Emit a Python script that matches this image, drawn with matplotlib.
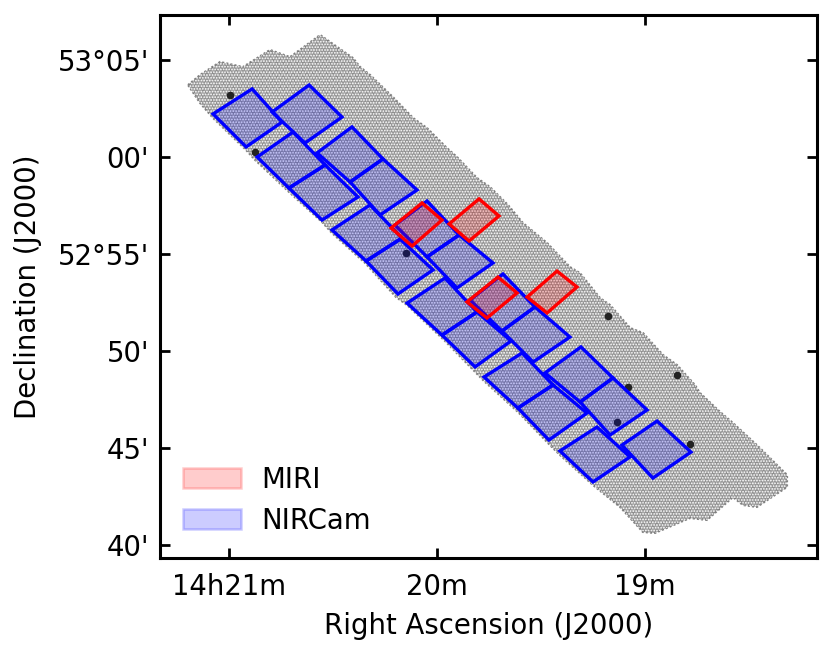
import numpy as np
import matplotlib
matplotlib.use("Agg")
import matplotlib.pyplot as plt
from matplotlib.patches import Polygon, Patch

# coordinates: RA in minutes after 14h, Dec in arcmin after 52d00m
# each footprint is left, top, right, bottom corner
nircam_ra = [
    [21.077, 20.889, 20.745, 20.918], [20.793, 20.615, 20.457, 20.635],
    [20.865, 20.692, 20.538, 20.712], [20.577, 20.409, 20.260, 20.418],
    [20.712, 20.538, 20.380, 20.553], [20.418, 20.260, 20.096, 20.274],
    [20.505, 20.322, 20.168, 20.341], [20.341, 20.178, 20.019, 20.188],
    [20.202, 20.048, 19.894, 20.048], [20.048, 19.894, 19.731, 19.904],
    [20.144, 19.962, 19.808, 19.976], [19.976, 19.808, 19.644, 19.817],
    [19.841, 19.683, 19.529, 19.688], [19.688, 19.529, 19.361, 19.538],
    [19.774, 19.591, 19.442, 19.611], [19.611, 19.442, 19.279, 19.462],
    [19.481, 19.308, 19.154, 19.312], [19.312, 19.154, 18.990, 19.168],
    [19.409, 19.231, 19.072, 19.250], [19.111, 18.942, 18.779, 18.962],
]
nircam_dec = [
    [62.22, 63.51, 61.80, 60.52], [62.32, 63.71, 62.06, 60.72],
    [60.00, 61.29, 59.59, 58.40], [60.21, 61.55, 59.90, 58.71],
    [58.40, 59.59, 57.94, 56.75], [58.71, 59.90, 58.30, 57.01],
    [56.24, 57.53, 55.82, 54.64], [54.64, 55.77, 54.18, 52.94],
    [56.49, 57.73, 55.98, 54.85], [54.85, 55.98, 54.54, 53.25],
    [52.47, 53.76, 52.01, 50.82], [50.82, 52.01, 50.52, 49.18],
    [52.63, 53.97, 52.27, 51.03], [51.03, 52.27, 50.72, 49.43],
    [48.66, 49.90, 48.25, 47.06], [47.06, 48.25, 46.80, 45.41],
    [48.87, 50.21, 48.61, 47.37], [47.37, 48.61, 46.96, 45.67],
    [44.85, 46.08, 44.54, 43.25], [45.15, 46.39, 44.79, 43.45],
]
miri_ra = [
    [20.221, 20.072, 19.976, 20.120], [19.942, 19.798, 19.702, 19.846],
    [19.856, 19.707, 19.615, 19.760], [19.567, 19.423, 19.327, 19.471],
]
miri_dec = [
    [56.34, 57.63, 56.75, 55.41], [56.55, 57.84, 56.96, 55.67],
    [52.53, 53.81, 52.99, 51.70], [52.78, 54.12, 53.30, 51.96],
]
# edge of the imaging mosaic
mosaic_ra = [21.197, 21.139, 21.043, 20.933, 20.803, 20.707, 20.562, 20.404, 20.370, 20.322,
             20.212, 20.115, 20.048, 19.952, 19.904, 19.808, 19.745, 19.659, 19.587, 19.471,
             19.361, 19.313, 19.216, 19.168, 19.072, 19.010, 18.913, 18.846, 18.760, 18.736,
             18.639, 18.577, 18.462, 18.423, 18.317, 18.317, 18.462, 18.529, 18.577, 18.702,
             18.784, 18.952, 19.010, 19.120, 19.250, 19.409, 19.457, 19.611, 19.774, 19.962,
             20.144, 20.197, 20.346, 20.505, 20.553, 20.712, 20.875, 20.918, 21.077, 21.139]
mosaic_dec = [63.71, 64.23, 64.90, 64.64, 65.52, 65.15, 66.29, 65.10, 64.64, 64.23,
              63.09, 62.01, 61.49, 60.46, 60.00, 58.92, 58.45, 57.53, 56.60, 55.57,
              54.33, 54.02, 52.73, 52.37, 51.19, 50.93, 49.79, 49.28, 48.25, 47.84,
              46.86, 46.29, 45.15, 44.74, 43.61, 42.99, 41.96, 42.06, 42.47, 41.29,
              41.39, 40.62, 40.67, 41.96, 43.09, 44.64, 45.15, 46.86, 48.45, 50.52,
              52.37, 52.78, 54.54, 56.08, 56.65, 58.20, 59.85, 60.36, 62.01, 62.78]
# brightest sources in the image
source_ra = [19.178, 19.082, 18.846, 20.995, 20.875, 20.149, 18.784, 19.135]
source_dec = [51.80, 48.14, 48.76, 63.20, 60.26, 55.05, 45.21, 46.34]

xticks = [21, 20, 19]
xticklabels = ["14h21m", "20m", "19m"]
yticks = [65, 60, 55, 50, 45, 40]
yticklabels = ["53°05'", "00'", "52°55'", "50'", "45'", "40'"]

fs = 19.8
plt.rcParams["hatch.linewidth"] = 0.8

fig = plt.figure(figsize=(8.31, 6.55), dpi=100)
ax = fig.add_axes([160 / 831, 1 - 558 / 655, 657 / 831, 543 / 655])

mosaic = np.column_stack([mosaic_ra, mosaic_dec])
ax.add_patch(Polygon(mosaic, closed=True, facecolor="#a6a6a6", edgecolor="#808080", lw=1.5, ls=(0, (1, 1)), zorder=1))
ax.add_patch(Polygon(mosaic, closed=True, facecolor="none", edgecolor="#606060", lw=0, hatch="xxxxx", alpha=0.35, zorder=2))
ax.add_patch(Polygon(mosaic, closed=True, facecolor="none", edgecolor="white", lw=0, hatch="......", zorder=2))
ax.scatter(source_ra, source_dec, s=30, c="#222222", linewidths=0, zorder=3)

for r, d in zip(nircam_ra, nircam_dec):
    corners = np.column_stack([r, d])
    ax.add_patch(Polygon(corners, closed=True, facecolor=(0, 0, 1, 0.2), edgecolor="blue", lw=2.4, zorder=4))
for r, d in zip(miri_ra, miri_dec):
    corners = np.column_stack([r, d])
    ax.add_patch(Polygon(corners, closed=True, facecolor=(1, 0, 0, 0.2), edgecolor="red", lw=2.4, zorder=5))

ax.set_xlim(21.332, 18.173)
ax.set_ylim(39.33, 67.32)
ax.set_xticks(xticks)
ax.set_xticklabels(xticklabels)
ax.set_yticks(yticks)
ax.set_yticklabels(yticklabels)
ax.tick_params(direction="in", top=True, right=True, length=7.5, width=2, labelsize=fs)
ax.tick_params(axis="x", pad=11)
ax.tick_params(axis="y", pad=8)
for s in ax.spines.values():
    s.set_linewidth(2.2)
ax.set_xlabel("Right Ascension (J2000)", fontsize=fs, labelpad=8)
ax.set_ylabel("Declination (J2000)", fontsize=fs, labelpad=11)

handles = [Patch(facecolor="red", edgecolor="red", alpha=0.2, lw=1.8, label="MIRI"),
           Patch(facecolor="blue", edgecolor="blue", alpha=0.2, lw=1.8, label="NIRCam")]
ax.legend(handles=handles, loc="lower left", frameon=False, fontsize=fs, handlelength=2.1, handleheight=0.75,
          labelspacing=0.47, handletextpad=0.75, borderaxespad=0.45, borderpad=0.4)

fig.savefig("out.png", dpi=100)
plt.close()
